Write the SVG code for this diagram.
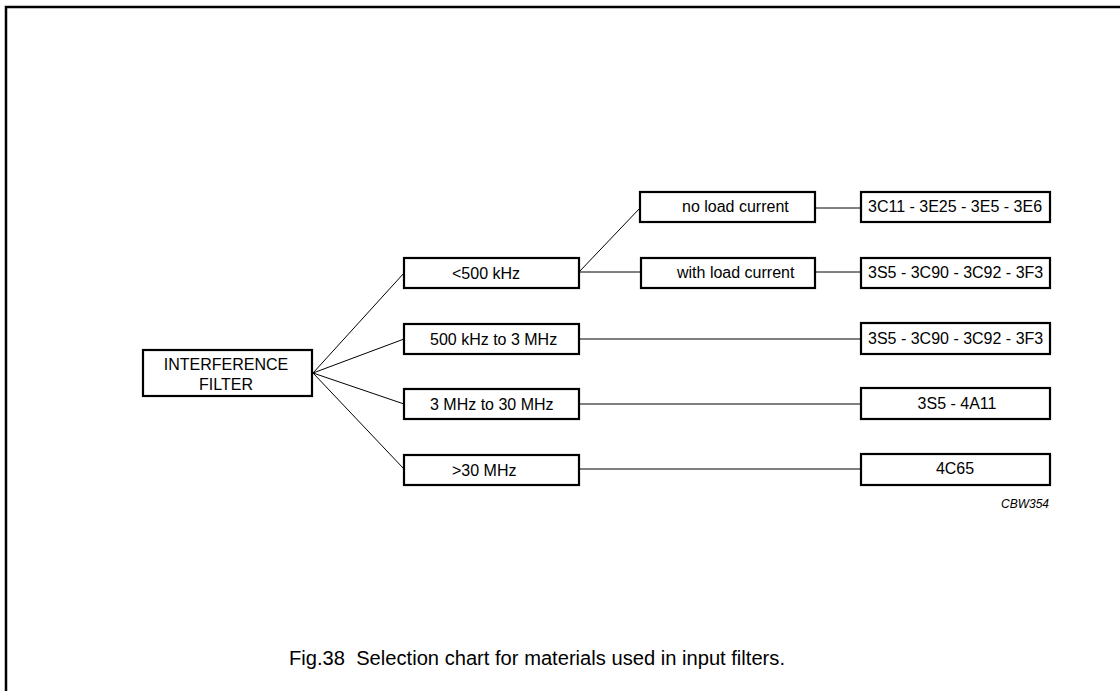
<svg xmlns="http://www.w3.org/2000/svg" width="1120" height="691" viewBox="0 0 1120 691">
<style>
.box{fill:#fff;stroke:#000;stroke-width:2.2}
.t{font-family:"Liberation Sans",Arial,sans-serif;font-size:16px;fill:#000}
.c{text-anchor:middle}
.ln{stroke:#000;stroke-width:1;fill:none}
</style>
<rect x="0" y="0" width="1120" height="691" fill="#fff"/>
<rect x="6" y="7" width="1200" height="800" fill="none" stroke="#000" stroke-width="2.5"/>
<g id="connectors" class="ln">
<line x1="313" y1="373" x2="404" y2="273"/>
<line x1="313" y1="373" x2="404" y2="339"/>
<line x1="313" y1="373" x2="404" y2="404"/>
<line x1="313" y1="373" x2="404" y2="469"/>
<line x1="579" y1="272" x2="640" y2="208"/>
<line x1="579" y1="272" x2="641" y2="272"/>
<line x1="815" y1="208" x2="861" y2="208"/>
<line x1="815" y1="272" x2="861" y2="272"/>
<line x1="579" y1="339" x2="861" y2="339"/>
<line x1="579" y1="404" x2="861" y2="404"/>
<line x1="579" y1="469" x2="861" y2="469"/>
</g>
<g id="root"><rect class="box" x="143" y="350" width="169" height="46"/><text class="t c" x="226" y="370">INTERFERENCE</text><text class="t c" x="226" y="390">FILTER</text></g>
<g id="b1"><rect class="box" x="404" y="258" width="175" height="30"/><text class="t" x="452" y="279">&lt;500 kHz</text></g>
<g id="b2"><rect class="box" x="404" y="324" width="175" height="30"/><text class="t" x="430" y="345">500 kHz to 3 MHz</text></g>
<g id="b3"><rect class="box" x="404" y="389" width="175" height="30"/><text class="t" x="430" y="410">3 MHz to 30 MHz</text></g>
<g id="b4"><rect class="box" x="404" y="455" width="175" height="30"/><text class="t" x="452" y="476">&gt;30 MHz</text></g>
<g id="nl"><rect class="box" x="640" y="192" width="175" height="30"/><text class="t" x="682" y="212">no load current</text></g>
<g id="wl"><rect class="box" x="641" y="258" width="174" height="30"/><text class="t" x="677" y="278">with load current</text></g>
<g id="r1"><rect class="box" x="861" y="192" width="189" height="30"/><text class="t" x="868" y="212">3C11 - 3E25 - 3E5 - 3E6</text></g>
<g id="r2"><rect class="box" x="861" y="258" width="189" height="30"/><text class="t" x="868" y="278">3S5 - 3C90 - 3C92 - 3F3</text></g>
<g id="r3"><rect class="box" x="861" y="323" width="189" height="31"/><text class="t" x="868" y="344">3S5 - 3C90 - 3C92 - 3F3</text></g>
<g id="r4"><rect class="box" x="861" y="388" width="189" height="31"/><text class="t c" x="957" y="409">3S5 - 4A11</text></g>
<g id="r5"><rect class="box" x="861" y="454" width="189" height="31"/><text class="t c" x="955" y="474">4C65</text></g>
<text font-family="Liberation Sans,Arial,sans-serif" font-size="12" font-style="italic" x="1049" y="508" text-anchor="end">CBW354</text>
<text font-family="Liberation Sans,Arial,sans-serif" font-size="19.5" x="289" y="665" textLength="496" lengthAdjust="spacingAndGlyphs" style="white-space:pre">Fig.38  Selection chart for materials used in input filters.</text>
</svg>
